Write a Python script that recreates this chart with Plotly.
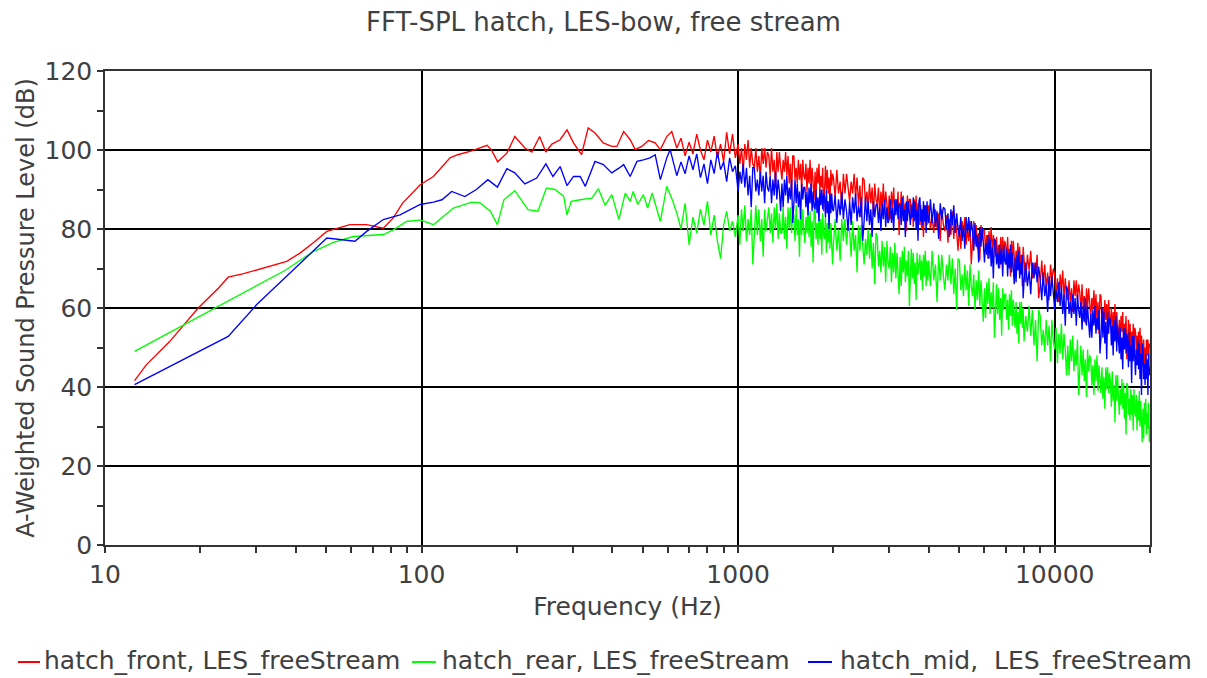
import plotly.graph_objects as go

# ---------------- data ----------------
title_text = "FFT-SPL hatch, LES-bow, free stream"
x_title = "Frequency (Hz)"
y_title = "A-Weighted Sound Pressure Level (dB)"
series_names = ["hatch_front, LES_freeStream",
                "hatch_rear, LES_freeStream",
                "hatch_mid,\u00a0 LES_freeStream"]
y_tick_vals = [0, 20, 40, 60, 80, 100, 120]
x_tick_vals = [10, 100, 1000, 10000]

# low / mid frequency part, one list per series (Hz, dB)
freq_red_lo = [12.4, 13.5, 16.0, 18.8, 19.7, 22.8, 24.5, 27.4, 33.2, 37.5, 41.3, 45.5, 50.2, 59.4, 67.1,
               75.7, 81.4, 87, 99, 109, 123, 130, 144, 153, 161, 166, 174, 186, 197, 212, 223, 236, 247,
               258, 274, 288, 302, 320, 336, 353, 375, 399, 414, 435, 456, 473, 496, 521, 547, 568, 595, 617]
spl_red_lo = [41.6, 45.6, 51.5, 58.3, 60, 65, 67.8, 68.7, 70.5, 71.8, 73.9, 76.5, 79.4, 81.1, 81.1,
              80.2, 82.8, 86.5, 91.2, 93.3, 98, 98.8, 99.8, 100.5, 101.2, 100.1, 97, 99.2, 103.4, 100.5, 99.5, 103.4, 99.5,
              101.5, 102.6, 105.1, 101.8, 98.8, 105.6, 104.3, 101.8, 100.9, 100.9, 104.7, 102.6, 100.1, 100.9, 102.4, 101.8, 100.1, 103.4, 104.7]

freq_green_lo = [12.4, 24.5, 37, 45.5, 52.7, 60.9, 75.7, 81.4, 89.7, 99, 109, 126, 144, 153, 165, 173.6, 182,
                 197, 217, 233, 248, 264, 281, 288, 297, 317, 345, 362, 380, 399, 420, 440, 456, 466, 482,
                 502, 518, 535, 568, 595, 622]
spl_green_lo = [49, 61.7, 69.5, 74.3, 76.6, 78.1, 78.6, 79.8, 81.9, 82.3, 81.1, 85.3, 86.8, 86.6, 84.5, 81.1, 87.4,
                89.7, 84.9, 84.5, 90.4, 90, 88.3, 83.6, 87, 87.4, 87.8, 90.2, 86, 88.7, 82.4, 89.1, 87, 89.5, 86.2,
                88.7, 85.3, 89.1, 81.9, 90.8, 87]

freq_blue_lo = [12.4, 24.5, 30.1, 50.2, 61.6, 67.1, 75.7, 85.5, 99, 109, 116, 124.5, 137, 149, 162, 173.6, 186,
                197, 212, 231, 247, 260, 274, 288, 302, 317, 329, 353, 375, 399, 420, 435, 456, 479, 502, 527,
                547, 568, 595, 610]
spl_blue_lo = [40.6, 52.8, 60.8, 77.7, 76.9, 79.4, 82.4, 83.6, 86.2, 86.8, 87.4, 89.5, 88.2, 90, 92.5, 90.6, 95.3,
               94.2, 91.4, 92.9, 96.5, 93.3, 95.8, 91, 93.3, 93.3, 90.8, 97.1, 96.3, 94.2, 95.4, 96.3, 93.3, 97.1, 97.5, 98,
               98.8, 92.5, 98, 100.1]

# high frequency part (dense FFT band), shared frequency list (Hz)
freq_hi = [640, 660, 680, 700, 720, 740, 760, 780, 800, 820, 840, 860, 880, 900, 920, 940, 960, 980,
           1000, 1012.5, 1025, 1037.5, 1050, 1062.5, 1075, 1087.5, 1100, 1112.5,
           1125, 1137.5, 1150, 1162.5, 1175, 1187.5, 1200, 1212.5, 1225, 1237.5,
           1250, 1262.5, 1275, 1287.5, 1300, 1312.5, 1325, 1337.5, 1350, 1362.5,
           1375, 1387.5, 1400, 1412.5, 1425, 1437.5, 1450, 1462.5, 1475, 1487.5,
           1500, 1512.5, 1525, 1537.5, 1550, 1562.5, 1575, 1587.5, 1600, 1612.5,
           1625, 1637.5, 1650, 1662.5, 1675, 1687.5, 1700, 1712.5, 1725, 1737.5,
           1750, 1762.5, 1775, 1787.5, 1800, 1812.5, 1825, 1837.5, 1850, 1862.5,
           1875, 1887.5, 1900, 1912.5, 1925, 1937.5, 1950, 1962.5, 1975, 1987.5,
           2000, 2025, 2050, 2075, 2100, 2125, 2150, 2175, 2200, 2225,
           2250, 2275, 2300, 2325, 2350, 2375, 2400, 2425, 2450, 2475,
           2500, 2525, 2550, 2575, 2600, 2625, 2650, 2675, 2700, 2725,
           2750, 2775, 2800, 2825, 2850, 2875, 2900, 2925, 2950, 2975,
           3000, 3025, 3050, 3075, 3100, 3125, 3150, 3175, 3200, 3225,
           3250, 3275, 3300, 3325, 3350, 3375, 3400, 3425, 3450, 3475,
           3500, 3525, 3550, 3575, 3600, 3625, 3650, 3675, 3700, 3725,
           3750, 3775, 3800, 3825, 3850, 3875, 3900, 3925, 3950, 3975,
           4000, 4050, 4100, 4150, 4200, 4250, 4300, 4350, 4400, 4450,
           4500, 4550, 4600, 4650, 4700, 4750, 4800, 4850, 4900, 4950,
           5000, 5050, 5100, 5150, 5200, 5250, 5300, 5350, 5400, 5450,
           5500, 5550, 5600, 5650, 5700, 5750, 5800, 5850, 5900, 5950,
           6000, 6050, 6100, 6150, 6200, 6250, 6300, 6350, 6400, 6450,
           6500, 6550, 6600, 6650, 6700, 6750, 6800, 6850, 6900, 6950,
           7000, 7050, 7100, 7150, 7200, 7250, 7300, 7350, 7400, 7450,
           7500, 7550, 7600, 7650, 7700, 7750, 7800, 7850, 7900, 7950,
           8000, 8100, 8200, 8300, 8400, 8500, 8600, 8700, 8800, 8900,
           9000, 9100, 9200, 9300, 9400, 9500, 9600, 9700, 9800, 9900,
           10000, 10100, 10200, 10300, 10400, 10500, 10600, 10700, 10800, 10900,
           11000, 11100, 11200, 11300, 11400, 11500, 11600, 11700, 11800, 11900,
           12000, 12100, 12200, 12300, 12400, 12500, 12600, 12700, 12800, 12900,
           13000, 13100, 13200, 13300, 13400, 13500, 13600, 13700, 13800, 13900,
           14000, 14100, 14200, 14300, 14400, 14500, 14600, 14700, 14800, 14900,
           15000, 15100, 15200, 15300, 15400, 15500, 15600, 15700, 15800, 15900,
           16000, 16100, 16200, 16300, 16400, 16500, 16600, 16700, 16800, 16900,
           17000, 17100, 17200, 17300, 17400, 17500, 17600, 17700, 17800, 17900,
           18000, 18100, 18200, 18300, 18400, 18500, 18600, 18700, 18800, 18900,
           19000, 19100, 19200, 19300, 19400, 19500, 19600, 19700, 19800, 19900,
           20000]

spl_red_hi = [100.5, 103, 98.5, 102, 99, 104, 100, 97.5, 102.5, 99.5, 103.5, 98, 101.5, 97, 104.5, 99, 104, 98,
              101.5, 96.5, 100.5, 94.5, 101.5, 97.5, 102.5, 95.5, 100.5, 96.5,
              95.5, 100.5, 94.5, 98.5, 92.5, 100.5, 96.5, 100.5, 95.5, 99.5,
              98.5, 93.5, 100.5, 94.5, 97.5, 90.5, 99.5, 94.5, 99.5, 95.5,
              92.5, 97.5, 94.5, 99.5, 93.5, 98.5, 91.5, 96.5, 88.5, 98.5,
              98.5, 92.5, 95.5, 91.5, 97.5, 92.5, 96.5, 89.5, 97.5, 93.5,
              92.5, 96.5, 89.5, 95.5, 91.5, 97.5, 90.5, 95.5, 92.5, 87.5,
              94.5, 88.5, 95.5, 91.5, 96.5, 89.5, 93.5, 90.5, 95.5, 84.5,
              90, 96, 90, 95, 89, 93, 86, 95, 91, 94,
              93, 88, 95, 89, 92, 85, 94, 89, 94, 90,
              87, 92, 89, 94, 88, 93, 86, 91, 83, 93,
              92.5, 86.5, 89.5, 85.5, 91.5, 86.5, 90.5, 83.5, 91.5, 87.5,
              86.5, 90.5, 83.5, 89.5, 85.5, 91.5, 84.5, 89.5, 86.5, 81.5,
              88.5, 82.5, 89.5, 85.5, 90.5, 83.5, 87.5, 84.5, 89.5, 78.5,
              83.5, 89.5, 83.5, 88.5, 82.5, 86.5, 79.5, 88.5, 84.5, 87.5,
              87.5, 82.5, 86.5, 80.5, 87.5, 83.5, 88.5, 81.5, 86.5, 82.5,
              81, 86, 80, 84, 78, 86, 82, 86, 81, 85,
              86, 80, 83, 79, 85, 80, 84, 77, 85, 81,
              79.5, 83.5, 76.5, 82.5, 78.5, 84.5, 77.5, 82.5, 79.5, 74.5,
              81, 75, 82, 78, 83, 76, 80, 77, 82, 71,
              76, 82, 76, 81, 75, 79, 72, 81, 77, 80,
              79.5, 74.5, 78.5, 72.5, 79.5, 75.5, 80.5, 73.5, 78.5, 74.5,
              73, 78, 72, 76, 70, 78, 74, 78, 73, 77,
              76, 71, 78, 72, 75, 68, 77, 72, 77, 73,
              69.5, 74.5, 71.5, 76.5, 70.5, 75.5, 68.5, 73.5, 65.5, 75.5,
              72.5, 66.5, 73.5, 69.5, 74.5, 67.5, 71.5, 68.5, 73.5, 62.5,
              66, 72, 66, 71, 65, 69, 62, 71, 67, 70,
              68.5, 63.5, 67.5, 61.5, 68.5, 64.5, 69.5, 62.5, 67.5, 63.5,
              62, 67, 61, 65, 59, 67, 63, 67, 62, 66,
              64, 59, 66, 60, 63, 56, 65, 60, 65, 61,
              57.5, 62.5, 59.5, 64.5, 58.5, 63.5, 56.5, 61.5, 53.5, 63.5,
              63, 57, 60, 56, 62, 57, 61, 54, 62, 58,
              56, 60, 53, 59, 55, 61, 54, 59, 56, 51,
              57, 51, 58, 54, 59, 52, 56, 53, 58, 47,
              51, 57, 51, 56, 50, 54, 47, 56, 52, 55,
              54, 49, 53, 47, 54, 50, 55, 48, 53, 49,
              47, 52, 46, 50, 44, 52, 48, 52, 47, 51,
              50]

spl_green_hi = [84, 80, 86.5, 76, 83, 79, 85, 81, 87, 78.5, 83.5, 77, 72.5, 81, 84.5, 79.5, 82, 78,
                83.5, 76, 85, 79.5, 86, 77, 82.5, 78.5, 85, 71,
                78.5, 86, 78.5, 85, 77, 82.5, 73, 85, 79.5, 83.5,
                85.5, 79, 84, 76.5, 85.5, 80, 86.5, 77.5, 84, 79,
                79, 85.5, 77.5, 83, 75, 85.5, 80, 85.5, 79, 84,
                83.5, 77, 86, 78.5, 82.5, 73, 85, 78.5, 85, 79.5,
                76.5, 83, 79, 85.5, 78, 84.5, 75.5, 82, 71.5, 84.5,
                85, 77.5, 81.5, 76, 84, 77.5, 82.5, 73.5, 84, 78.5,
                77.5, 83, 74, 81.5, 76.5, 84, 75, 81.5, 77.5, 71,
                76, 82.5, 74.5, 80, 72, 82.5, 77, 82.5, 76, 81,
                79.5, 73, 82, 74.5, 78.5, 69, 81, 74.5, 81, 75.5,
                71, 77.5, 73.5, 80, 72.5, 79, 70, 76.5, 66, 79,
                78, 70.5, 74.5, 69, 77, 70.5, 75.5, 66.5, 77, 71.5,
                70, 75.5, 66.5, 74, 69, 76.5, 67.5, 74, 70, 63.5,
                73, 65.5, 74.5, 69, 75.5, 66.5, 72, 68, 74.5, 60.5,
                67.5, 75, 67.5, 74, 66, 71.5, 62, 74, 68.5, 72.5,
                73.5, 67, 72, 64.5, 73.5, 68, 74.5, 65.5, 72, 67,
                72, 65.5, 74.5, 67, 71, 61.5, 73.5, 67, 73.5, 68,
                64.5, 71, 67, 73.5, 66, 72.5, 63.5, 70, 59.5, 72.5,
                72, 64.5, 68.5, 63, 71, 64.5, 69.5, 60.5, 71, 65.5,
                63, 68.5, 59.5, 67, 62, 69.5, 60.5, 67, 63, 56.5,
                65, 57.5, 66.5, 61, 67.5, 58.5, 64, 60, 66.5, 52.5,
                58.5, 66, 58.5, 65, 57, 62.5, 53, 65, 59.5, 63.5,
                63.5, 57, 62, 54.5, 63.5, 58, 64.5, 55.5, 62, 57,
                55, 61.5, 53.5, 59, 51, 61.5, 56, 61.5, 55, 60,
                51.5, 58, 54, 60.5, 53, 59.5, 50.5, 57, 46.5, 59.5,
                58, 50.5, 54.5, 49, 57, 50.5, 55.5, 46.5, 57, 51.5,
                49.5, 55, 46, 53.5, 48.5, 56, 47, 53.5, 49.5, 43,
                50.5, 43, 52, 46.5, 53, 44, 49.5, 45.5, 52, 38,
                43, 50.5, 43, 49.5, 41.5, 47, 37.5, 49.5, 44, 48,
                47, 40.5, 45.5, 38, 47, 41.5, 48, 39, 45.5, 40.5,
                38.5, 45, 37, 42.5, 34.5, 45, 39.5, 45, 38.5, 43.5,
                41.5, 35, 44, 36.5, 40.5, 31, 43, 36.5, 43, 37.5,
                33, 39.5, 35.5, 42, 34.5, 41, 32, 38.5, 28, 41,
                40.5, 33, 37, 31.5, 39.5, 33, 38, 29, 39.5, 34,
                32.5, 38, 29, 36.5, 31.5, 39, 30, 36.5, 32.5, 26,
                34.5, 27, 36, 30.5, 37, 28, 33.5, 29.5, 36, 26,
                30]

spl_blue_hi = [93.5, 97, 94, 98.5, 95, 99, 93, 96.5, 91.5, 97.5, 94, 99.5, 95, 97, 92, 98, 94.5, 96,
               89.5, 94.5, 91.5, 96.5, 90.5, 95.5, 88.5, 93.5, 85.5, 95.5,
               95.5, 89.5, 92.5, 88.5, 94.5, 89.5, 93.5, 86.5, 94.5, 90.5,
               89.5, 93.5, 86.5, 92.5, 88.5, 94.5, 87.5, 92.5, 89.5, 84.5,
               91.5, 85.5, 92.5, 88.5, 93.5, 86.5, 90.5, 87.5, 92.5, 81.5,
               86.5, 92.5, 86.5, 91.5, 85.5, 89.5, 82.5, 91.5, 87.5, 90.5,
               90.5, 85.5, 89.5, 83.5, 90.5, 86.5, 91.5, 84.5, 89.5, 85.5,
               85, 90, 84, 88, 82, 90, 86, 90, 85, 89,
               88, 83, 90, 84, 87, 80, 89, 84, 89, 85,
               84.5, 88.5, 81.5, 87.5, 83.5, 89.5, 82.5, 87.5, 84.5, 79.5,
               87, 81, 88, 84, 89, 82, 86, 83, 88, 77,
               82, 88, 82, 87, 81, 85, 78, 87, 83, 86,
               86.5, 81.5, 85.5, 79.5, 86.5, 82.5, 87.5, 80.5, 85.5, 81.5,
               82.5, 87.5, 81.5, 85.5, 79.5, 87.5, 83.5, 87.5, 82.5, 86.5,
               86, 81, 88, 82, 85, 78, 87, 82, 87, 83,
               81, 86, 83, 88, 82, 87, 80, 85, 77, 87,
               88, 82, 85, 81, 87, 82, 86, 79, 87, 83,
               81.5, 87.5, 81.5, 86.5, 80.5, 84.5, 77.5, 86.5, 82.5, 85.5,
               85, 80, 84, 78, 85, 81, 86, 79, 84, 80,
               78, 83, 77, 81, 75, 83, 79, 83, 78, 82,
               79.5, 74.5, 81.5, 75.5, 78.5, 71.5, 80.5, 75.5, 80.5, 76.5,
               71.5, 76.5, 73.5, 78.5, 72.5, 77.5, 70.5, 75.5, 67.5, 77.5,
               77, 71, 74, 70, 76, 71, 75, 68, 76, 72,
               71, 75, 68, 74, 70, 76, 69, 74, 71, 66,
               72.5, 66.5, 73.5, 69.5, 74.5, 67.5, 71.5, 68.5, 73.5, 62.5,
               66.5, 71.5, 65.5, 69.5, 63.5, 71.5, 67.5, 71.5, 66.5, 70.5,
               67, 62, 69, 63, 66, 59, 68, 63, 68, 64,
               59.5, 64.5, 61.5, 66.5, 60.5, 65.5, 58.5, 63.5, 55.5, 65.5,
               64.5, 58.5, 61.5, 57.5, 63.5, 58.5, 62.5, 55.5, 63.5, 59.5,
               57.5, 61.5, 54.5, 60.5, 56.5, 62.5, 55.5, 60.5, 57.5, 52.5,
               58.5, 52.5, 59.5, 55.5, 60.5, 53.5, 57.5, 54.5, 59.5, 48.5,
               52.5, 60, 52.5, 59, 51, 56.5, 47, 59, 53.5, 57.5,
               57, 50.5, 55.5, 48, 57, 51.5, 58, 49, 55.5, 50.5,
               48.5, 55, 47, 52.5, 44.5, 55, 49.5, 55, 48.5, 53.5,
               51.5, 45, 54, 46.5, 50.5, 41, 53, 46.5, 53, 47.5,
               43, 49.5, 45.5, 52, 44.5, 51, 42, 48.5, 38, 51,
               49.5, 42, 46, 40.5, 48.5, 42, 47, 38, 48.5, 43,
               45]

for arr in (spl_red_hi, spl_green_hi, spl_blue_hi):
    assert len(arr) == len(freq_hi), (len(arr), len(freq_hi))
assert len(freq_red_lo) == len(spl_red_lo)
assert len(freq_green_lo) == len(spl_green_lo)
assert len(freq_blue_lo) == len(spl_blue_lo)

colors = ["#ff0000", "#00ff00", "#0000ff"]
series = [
    (freq_red_lo + freq_hi, spl_red_lo + spl_red_hi),
    (freq_green_lo + freq_hi, spl_green_lo + spl_green_hi),
    (freq_blue_lo + freq_hi, spl_blue_lo + spl_blue_hi),
]

# ---------------- styling ----------------
FONT = "DejaVu Sans"
TXT = "#404040"
W, H = 1207, 678
ML, MR, MT, MB = 105, 57, 71, 133
PW, PH = W - ML - MR, H - MT - MB


def px_to_paper_x(px):
    return (px - ML) / PW


def px_to_paper_y(py):
    return (H - MB - py) / PH


fig = go.Figure()
for (fx, fy), name, col in zip(series, series_names, colors):
    fig.add_trace(go.Scatter(x=fx, y=fy, mode="lines", name=name,
                             line=dict(color=col, width=1.35), showlegend=False))

# legend drawn as short line samples + text (laid out like the reference)
legend_text_x = [42, 440, 838]
legend_line_x = [(18, 40), (412, 436), (808, 832)]
legend_text_y = 660
legend_line_y = 662
annotations = []
shapes = []
for name, col, tx, (lx0, lx1) in zip(series_names, colors, legend_text_x, legend_line_x):
    annotations.append(dict(text=name, xref="paper", yref="paper",
                            x=px_to_paper_x(tx), y=px_to_paper_y(legend_text_y),
                            xanchor="left", yanchor="middle", showarrow=False,
                            font=dict(family=FONT, size=25, color=TXT)))
    shapes.append(dict(type="line", xref="paper", yref="paper",
                       x0=px_to_paper_x(lx0), x1=px_to_paper_x(lx1),
                       y0=px_to_paper_y(legend_line_y), y1=px_to_paper_y(legend_line_y),
                       line=dict(color=col, width=2)))

fig.update_layout(
    width=W, height=H,
    paper_bgcolor="white", plot_bgcolor="white",
    margin=dict(l=ML, r=MR, t=MT, b=MB),
    font=dict(family=FONT, color=TXT, size=25),
    title=dict(text=title_text, x=0.5, xanchor="center", xref="container",
               y=1 - 22 / H, yanchor="middle", yref="container",
               font=dict(family=FONT, size=26, color=TXT)),
    showlegend=False,
    annotations=annotations,
    shapes=shapes,
)

fig.update_xaxes(
    type="log", range=[1, 4.30103],
    tickvals=x_tick_vals, ticktext=[str(v) for v in x_tick_vals],
    showgrid=True, gridcolor="#000000", gridwidth=1.5,
    showline=True, linecolor="#333333", linewidth=1.5, mirror=True,
    ticks="outside", ticklen=6, tickcolor="#333333", tickwidth=1.5,
    minor=dict(ticks="outside", ticklen=6, tickcolor="#333333", tickwidth=1.5,
               dtick="D1", showgrid=False),
    tickfont=dict(family=FONT, size=25, color=TXT),
    title=dict(text=x_title, font=dict(family=FONT, size=25, color=TXT), standoff=10),
    zeroline=False,
)
fig.update_yaxes(
    range=[0, 120], tickvals=y_tick_vals,
    showgrid=True, gridcolor="#000000", gridwidth=1.5,
    showline=True, linecolor="#333333", linewidth=1.5, mirror=True,
    ticks="outside", ticklen=6, tickcolor="#333333", tickwidth=1.5,
    minor=dict(ticks="outside", ticklen=6, tickcolor="#333333", tickwidth=1.5,
               dtick=10, showgrid=False),
    tickfont=dict(family=FONT, size=25, color=TXT),
    title=dict(text=y_title, font=dict(family=FONT, size=24, color=TXT), standoff=3),
    zeroline=False,
)

fig.write_html("out.html")
